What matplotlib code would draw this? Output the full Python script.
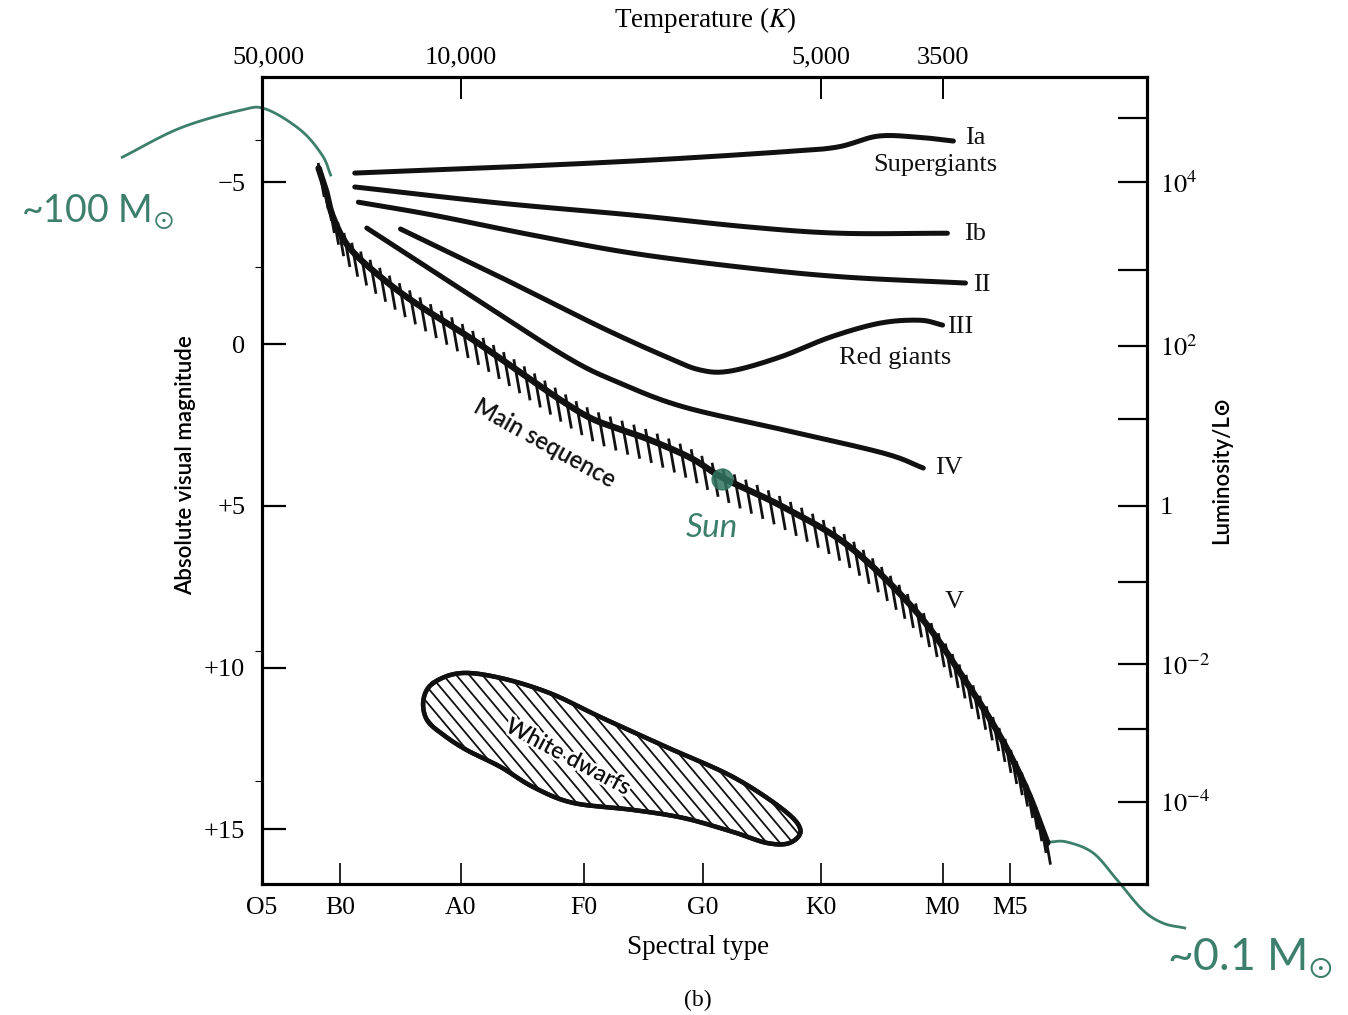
import numpy as np
import matplotlib
matplotlib.use('Agg')
import matplotlib.pyplot as plt
from matplotlib.collections import LineCollection
from matplotlib.patches import Polygon
import matplotlib.patheffects as pe

plt.rcParams['font.family'] = ['Liberation Serif', 'DejaVu Serif']
plt.rcParams['mathtext.fontset'] = 'stix'

# spectral axis: B0 = 1, A0 = 2, ... M0 = 6
spec_labels = ['O5', 'B0', 'A0', 'F0', 'G0', 'K0', 'M0', 'M5']
spec_pos = [0.35, 1.0, 2.0, 3.02, 4.01, 4.99, 6.0, 6.56]

mag_ticks = [-5, 0, 5, 10, 15]
mag_labels = ['\u22125', '0', '+5', '+10', '+15']

temp_labels = ['50,000', '10,000', '5,000', '3500']
temp_pos = [0.40, 2.0, 4.99, 6.0]

# luminosity decades (10^5 ... 10^-4) at their magnitude positions
lum_mag = [-7.0, -5.0, -2.3, 0.05, 2.3, 5.0, 7.35, 9.9, 11.9, 14.15]
lum_labels = ['', '$10^4$', '', '$10^2$', '', '1', '', '$10^{-2}$', '', '$10^{-4}$']

# luminosity classes (spectral index, absolute magnitude)
ia_s = [1.12, 2.33, 3.57, 4.65, 5.12, 5.46, 5.79, 6.09]
ia_m = [-5.29, -5.47, -5.69, -5.94, -6.09, -6.43, -6.40, -6.28]

ib_s = [1.12, 2.33, 3.43, 4.40, 5.15, 6.04]
ib_m = [-4.86, -4.36, -3.99, -3.62, -3.43, -3.43]

ii_s = [1.15, 1.77, 2.60, 3.43, 4.40, 5.21, 6.19]
ii_m = [-4.39, -3.99, -3.37, -2.81, -2.35, -2.07, -1.89]

iii_s = [1.50, 2.33, 3.16, 3.71, 3.99, 4.24, 4.65, 5.07, 5.48, 5.81, 6.00]
iii_m = [-3.56, -2.07, -0.53, 0.40, 0.80, 0.83, 0.40, -0.22, -0.65, -0.74, -0.59]

iv_s = [1.22, 2.05, 2.88, 3.32, 3.85, 4.68, 5.51, 5.84]
iv_m = [-3.59, -1.58, 0.40, 1.20, 1.94, 2.65, 3.37, 3.83]

ms_s = [0.82, 0.88, 0.94, 1.08, 1.37, 1.66, 2.08, 2.49, 2.83, 3.08, 3.32, 3.57,
        3.91, 4.18, 4.68, 5.23, 5.79, 6.20, 6.48, 6.70, 6.87]
ms_m = [-5.44, -4.76, -3.93, -2.96, -1.97, -1.18, -0.19, 0.86, 1.73, 2.29, 2.63, 2.96,
        3.52, 4.14, 5.04, 6.27, 8.31, 10.47, 12.14, 13.78, 15.42]

wd_s = [1.77, 2.00, 2.33, 2.74, 3.16, 3.71, 4.26, 4.68, 4.82, 4.73, 4.54, 4.26,
        3.85, 3.43, 2.93, 2.60, 2.33, 2.05, 1.86, 1.72, 1.69]
wd_m = [10.48, 10.17, 10.32, 10.79, 11.53, 12.46, 13.38, 14.40, 15.02, 15.42, 15.42, 15.08,
        14.65, 14.40, 14.18, 13.69, 13.07, 12.55, 12.09, 11.62, 11.00]

sun_s, sun_m = 4.17, 4.18

# handwritten pointers
hi_s = [-0.81, -0.33, 0.17, 0.38, 0.67, 0.85, 0.92]
hi_m = [-5.78, -6.68, -7.23, -7.27, -6.62, -5.84, -5.23]
lo_s = [6.89, 7.03, 7.25, 7.45, 7.66, 7.83, 8.01]
lo_m = [15.39, 15.39, 15.73, 16.57, 17.49, 17.90, 18.05]

ink = '#111111'
pen = '#3c7f6c'


def catmull(x, y, n=20, closed=False):
    p = np.column_stack([x, y]).astype(float)
    if closed:
        p = np.vstack([p[-1], p, p[0], p[1]])
    else:
        p = np.vstack([2 * p[0] - p[1], p, 2 * p[-1] - p[-2]])
    t = np.linspace(0, 1, n, endpoint=False)[:, None]
    out = []
    for i in range(1, len(p) - 2):
        p0, p1, p2, p3 = p[i - 1], p[i], p[i + 1], p[i + 2]
        out.append(0.5 * (2 * p1 + (-p0 + p2) * t + (2 * p0 - 5 * p1 + 4 * p2 - p3) * t ** 2
                          + (-p0 + 3 * p1 - 3 * p2 + p3) * t ** 3))
    out.append(p[-2][None, :])
    r = np.vstack(out)
    return r[:, 0], r[:, 1]


fig = plt.figure(figsize=(13.48, 10.15), dpi=100)
ax = fig.add_axes([262 / 1348, 1 - 884 / 1015, 885 / 1348, 807 / 1015])
ax.set_xlim(0.353, 7.697)
ax.set_ylim(16.69, -8.26)

for s in ax.spines.values():
    s.set_linewidth(2.2)

ax.set_xticks(spec_pos, spec_labels)
ax.set_yticks(mag_ticks, mag_labels)
ax.tick_params(axis='x', direction='in', length=15, width=1.2, pad=9, labelsize=18.5)
ax.tick_params(axis='y', direction='in', length=17, width=1.6, pad=12, labelsize=19)
ax.set_yticks([-6.3, -2.4, 9.5, 13.5], minor=True)
ax.tick_params(axis='y', which='minor', direction='out', length=5, width=0.8)

# right axis: luminosity
ax_r = ax.twinx()
ax_r.set_ylim(ax.get_ylim())
ax_r.set_yticks(lum_mag, lum_labels)
ax_r.tick_params(direction='in', length=21, width=1.6, pad=9, labelsize=19)
for s in ax_r.spines.values():
    s.set_linewidth(2.2)

# top axis: temperature
ax_t = ax.twiny()
ax_t.set_xlim(ax.get_xlim())
ax_t.set_xticks(temp_pos, temp_labels)
ax_t.tick_params(direction='in', length=16, width=1.4, pad=6, labelsize=19)
ax_t.xaxis.get_major_ticks()[0].tick2line.set_visible(False)
for s in ax_t.spines.values():
    s.set_linewidth(2.2)

# giant branches
for xs, ys in [(ia_s, ia_m), (ib_s, ib_m), (ii_s, ii_m), (iii_s, iii_m), (iv_s, iv_m)]:
    cx, cy = catmull(xs, ys)
    ax.plot(cx, cy, color=ink, lw=3.6, solid_capstyle='round')

# main sequence with hatch ticks
mx, my = catmull(ms_s, ms_m, n=30)
ax.plot(mx, my, color=ink, lw=4.6, solid_capstyle='round', zorder=3)
disp = ax.transData.transform(np.column_stack([mx, my]))
arc = np.concatenate([[0], np.cumsum(np.hypot(*np.diff(disp, axis=0).T))])
at = np.arange(5, arc[-1] - 2, 12.5)
px = np.interp(at, arc, disp[:, 0])
py = np.interp(at, arc, disp[:, 1])
inv = ax.transData.inverted()
marks = [inv.transform([(x - 2, y + 10), (x + 4, y - 24)]) for x, y in zip(px, py)]
ax.add_collection(LineCollection(marks, colors=ink, linewidths=2.0, zorder=3))

# white dwarf region
wx, wy = catmull(wd_s, wd_m, n=20, closed=True)
blob = Polygon(np.column_stack([wx, wy]), closed=True, facecolor='white',
               edgecolor=ink, lw=3.2, zorder=2)
ax.add_patch(blob)
bd = ax.transData.transform(np.column_stack([wx, wy]))
ang = np.deg2rad(-50)
d = np.array([np.cos(ang), np.sin(ang)])
nrm = np.array([-d[1], d[0]])
ctr = bd.mean(axis=0)
hatch = []
for k in np.arange(-40, 41) * 10.0:
    c = ctr + nrm * k
    hatch.append(inv.transform([c - d * 500, c + d * 500]))
hl = LineCollection(hatch, colors=ink, linewidths=1.3, zorder=2.5)
ax.add_collection(hl)
hl.set_clip_path(blob)
ax.plot(wx, wy, color=ink, lw=3.2, zorder=2.6)

# labels in the plot
lab = dict(fontsize=19, color=ink)
ax.text(6.27, -6.37, 'Ia', ha='center', va='center', **lab)
ax.text(5.94, -5.55, 'Supergiants', ha='center', va='center', **lab)
ax.text(6.27, -3.40, 'Ib', ha='center', va='center', **lab)
ax.text(6.33, -1.83, 'II', ha='center', va='center', **lab)
ax.text(6.15, -0.53, 'III', ha='center', va='center', **lab)
ax.text(5.61, 0.43, 'Red giants', ha='center', va='center', **lab)
ax.text(6.05, 3.83, 'IV', ha='center', va='center', **lab)
ax.text(6.10, 7.98, 'V', ha='center', va='center', **lab)

sans = ['Lato', 'DejaVu Sans']
ax.text(2.70, 3.06, 'Main sequence', family=sans, fontsize=17, rotation=-29,
        weight='semibold', ha='center', va='center', color=ink)
ax.text(2.89, 12.77, 'White dwarfs', family=sans, fontsize=16.5, rotation=-28,
        weight='semibold', ha='center', va='center', color=ink, zorder=4,
        path_effects=[pe.withStroke(linewidth=4, foreground='white')])

# handwritten notes
ax.plot(sun_s, sun_m, 'o', ms=15, color='#2f735f', alpha=0.85, zorder=5)
hx, hy = catmull(hi_s, hi_m)
ax.plot(hx, hy, color=pen, lw=2, clip_on=False)
lx, ly = catmull(lo_s, lo_m)
ax.plot(lx, ly, color=pen, lw=2, clip_on=False)
fig.text(97 / 1348, 1 - 212 / 1015, '~100 M$_{\\odot}$', family=sans,
         fontsize=27, color=pen, ha='center', va='center')
fig.text(712 / 1348, 1 - 528 / 1015, 'Sun', family=sans, style='italic',
         fontsize=24, color=pen, ha='center', va='center')
fig.text(1250 / 1348, 1 - 958 / 1015, '~0.1 M$_{\\odot}$', family=sans,
         fontsize=32, color=pen, ha='center', va='center')

# axis titles
fig.text(705 / 1348, 1 - 20 / 1015, 'Temperature ($K$)', fontsize=19.5, ha='center', va='center')
fig.text(698 / 1348, 1 - 947 / 1015, 'Spectral type', fontsize=19.5, ha='center', va='center')
fig.text(698 / 1348, 1 - 1000 / 1015, '(b)', fontsize=17, ha='center', va='center')
fig.text(186 / 1348, 1 - 465 / 1015, 'Absolute visual magnitude', family=sans, fontsize=16,
         weight='semibold', rotation=90, ha='center', va='center')
fig.text(1222 / 1348, 1 - 470 / 1015, 'Luminosity/L\u2299', family=sans, fontsize=16,
         weight='semibold', rotation=90, ha='center', va='center')

fig.savefig('out.png', dpi=100)
